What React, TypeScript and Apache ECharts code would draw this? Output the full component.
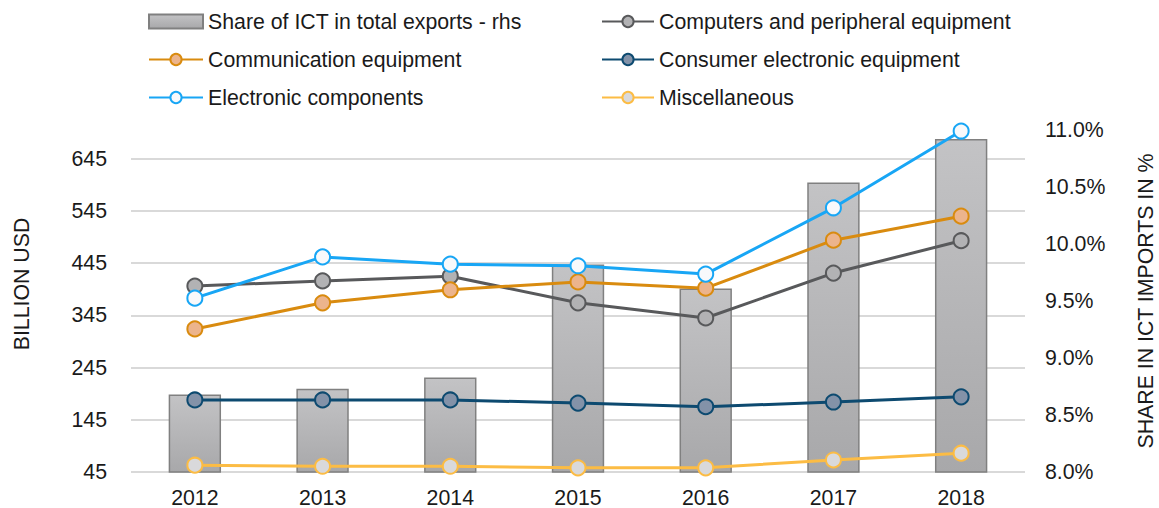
import React, { useEffect, useRef } from "react";
import * as echarts from "echarts";

const years = ["2012", "2013", "2014", "2015", "2016", "2017", "2018"];
const shareICT = [8.68, 8.73, 8.83, 9.82, 9.61, 10.54, 10.92];
const computers = [401, 411, 420, 369, 340, 426, 488];
const communication = [319, 369, 394, 409, 397, 489, 535];
const consumer = [183, 183, 183, 177, 170, 179, 189];
const electronic = [378, 457, 443, 440, 424, 551, 698];
const misc = [58, 56, 56, 53, 53, 68, 81];

const FONT = "'Liberation Sans', Arial, sans-serif";
const FS = 21.3;

function lineSeries(name: string, data: number[], line: string, fill: string) {
  return {
    name,
    type: "line",
    data,
    yAxisIndex: 0,
    symbol: "circle",
    symbolSize: 15,
    showSymbol: true,
    lineStyle: { color: line, width: 3 },
    itemStyle: { color: fill, borderColor: line, borderWidth: 2 },
    z: 3,
  };
}

export default function App() {
  const ref = useRef<HTMLDivElement>(null);
  useEffect(() => {
    document.body.style.margin = "0";
    const chart = echarts.init(ref.current!, null, { renderer: "svg" });
    const textStyle = { fontFamily: FONT, fontSize: FS, color: "#1a1a1a" };
    const legendBase = {
      orient: "vertical",
      top: 11,
      padding: 0,
      itemWidth: 54,
      itemHeight: 14,
      itemGap: 17,
      textStyle,
    };
    chart.setOption({
      animation: false,
      textStyle: { fontFamily: FONT },
      grid: {
        left: 131,
        right: 134,
        top: 130,
        bottom: 36,
        outerBoundsMode: "none",
        containLabel: false,
      },
      legend: [
        {
          ...legendBase,
          left: 148,
          data: [
            { name: "Share of ICT in total exports - rhs", icon: "rect" },
            "Communication equipment",
            "Electronic components",
          ],
        },
        {
          ...legendBase,
          left: 601,
          itemWidth: 52,
          data: [
            "Computers and peripheral equipment",
            "Consumer electronic equipment",
            "Miscellaneous",
          ],
        },
      ],
      xAxis: {
        type: "category",
        data: years,
        axisLine: { show: false },
        axisTick: { show: false },
        axisLabel: { ...textStyle, margin: 15 },
      },
      yAxis: [
        {
          type: "value",
          min: 45,
          max: 700,
          interval: 100,
          name: "BILLION USD",
          nameLocation: "middle",
          nameRotate: 90,
          nameGap: 99,
          nameTextStyle: {
            fontFamily: FONT,
            fontSize: FS,
            color: "#1a1a1a",
            padding: [0, 0, 0, 34],
          },
          axisLine: { show: false },
          axisTick: { show: false },
          axisLabel: {
            ...textStyle,
            margin: 24,
            showMaxLabel: false,
          },
          splitLine: { show: true, showMaxLine: false, lineStyle: { color: "#d9d9d9", width: 2 } },
        },
        {
          type: "value",
          min: 8,
          max: 11,
          interval: 0.5,
          position: "right",
          name: "SHARE IN ICT IMPORTS IN %",
          nameLocation: "middle",
          nameRotate: 90,
          nameGap: 110,
          nameTextStyle: { fontFamily: FONT, fontSize: FS, color: "#1a1a1a" },
          axisLine: { show: false },
          axisTick: { show: false },
          axisLabel: {
            ...textStyle,
            margin: 20,
            formatter: (v: number) => v.toFixed(1) + "%",
          },
          splitLine: { show: false },
        },
      ],
      series: [
        {
          name: "Share of ICT in total exports - rhs",
          type: "bar",
          data: shareICT,
          yAxisIndex: 1,
          barWidth: "41%",
          itemStyle: {
            color: new echarts.graphic.LinearGradient(0, 0, 0, 1, [
              { offset: 0, color: "#c3c3c5" },
              { offset: 1, color: "#a8a8aa" },
            ]),
            borderColor: "#808080",
            borderWidth: 1.5,
          },
          z: 1,
        },
        lineSeries("Computers and peripheral equipment", computers, "#58595b", "#b2b2b4"),
        lineSeries("Communication equipment", communication, "#d98b0f", "#ecb48c"),
        lineSeries("Consumer electronic equipment", consumer, "#0d4a70", "#8392a8"),
        lineSeries("Electronic components", electronic, "#18a6f5", "#f8f9fb"),
        lineSeries("Miscellaneous", misc, "#fcbc44", "#d9d9db"),
      ],
    });
    return () => chart.dispose();
  }, []);
  return <div ref={ref} style={{ width: 1159, height: 508 }} />;
}
